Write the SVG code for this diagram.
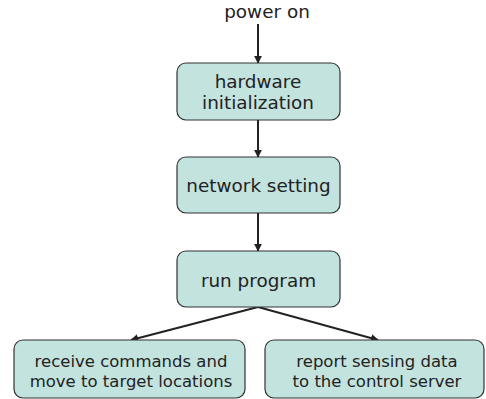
<svg xmlns="http://www.w3.org/2000/svg" width="486" height="399" viewBox="0 0 486 399">
<style>
.box{fill:#c3e3df;stroke:#333;stroke-width:1.2}
text{font-family:"DejaVu Sans",Verdana,sans-serif;fill:#222;text-anchor:middle}
.t16{font-size:18.4px}
.t15{font-size:16.5px}
.c{stroke:#222;stroke-width:2;fill:none;marker-end:url(#ah)}
</style>
<defs>
<marker id="ah" viewBox="0 0 10 10" refX="9" refY="5" markerWidth="4" markerHeight="4" orient="auto" markerUnits="strokeWidth">
<path d="M0,0 L10,5 L0,10 z" fill="#222"/>
</marker>
</defs>
<g id="start"><text class="t16" x="267" y="18">power on</text></g>
<g id="connectors">
<line class="c" x1="258" y1="24" x2="258" y2="63"/>
<line class="c" x1="258" y1="120" x2="258" y2="157"/>
<line class="c" x1="258" y1="213" x2="258" y2="251"/>
<line class="c" x1="258" y1="307" x2="131" y2="340"/>
<line class="c" x1="258" y1="307" x2="378" y2="340"/>
</g>
<g id="n1"><rect class="box" x="177" y="63" width="163" height="57" rx="9"/>
<text class="t16" x="258" y="88">hardware</text><text class="t16" x="258" y="109">initialization</text></g>
<g id="n2"><rect class="box" x="177" y="157" width="163" height="56" rx="9"/>
<text class="t16" x="258.5" y="192">network setting</text></g>
<g id="n3"><rect class="box" x="177" y="251" width="163" height="56" rx="9"/>
<text class="t16" x="258.5" y="287">run program</text></g>
<g id="n4"><rect class="box" x="14" y="340" width="231" height="58" rx="9"/>
<text class="t15" x="131" y="367">receive commands and</text><text class="t15" x="131" y="387">move to target locations</text></g>
<g id="n5"><rect class="box" x="265" y="340" width="219" height="58" rx="9"/>
<text class="t15" x="377" y="367">report sensing data</text><text class="t15" x="377" y="387">to the control server</text></g>
</svg>
